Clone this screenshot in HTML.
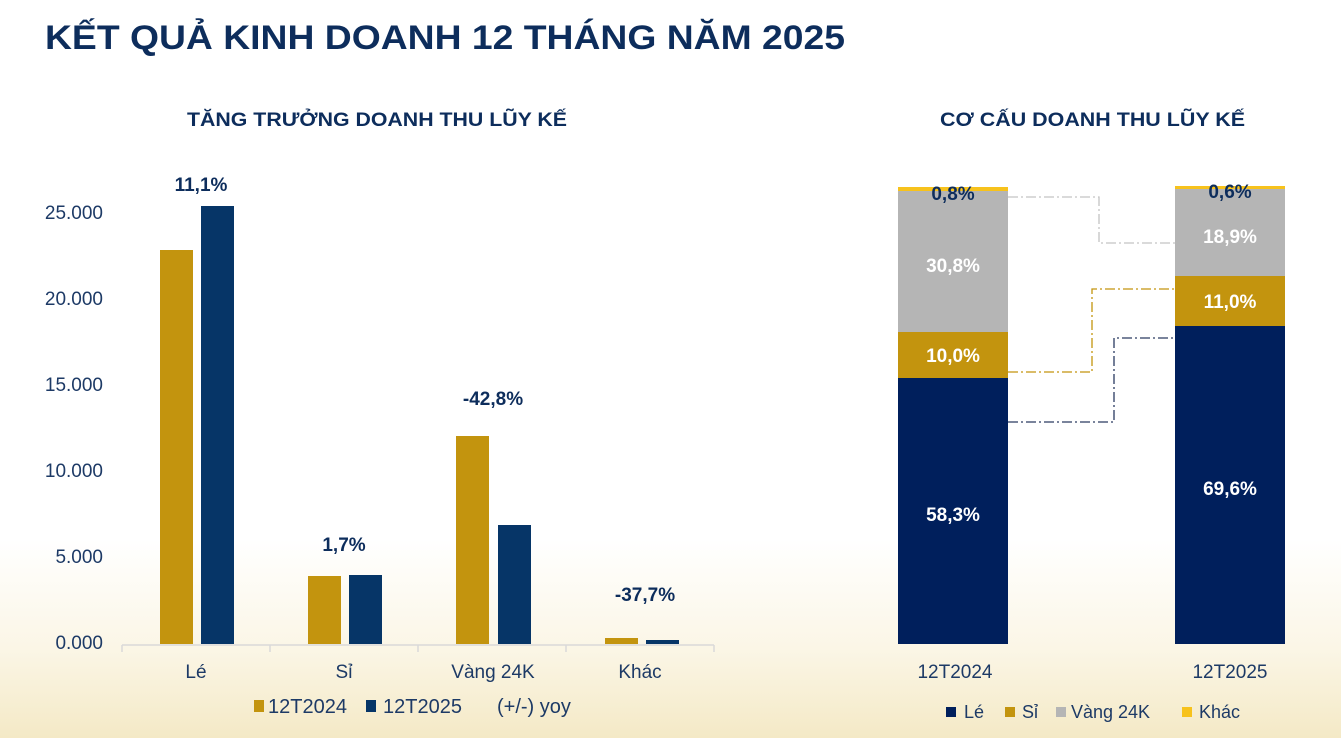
<!DOCTYPE html>
<html><head><meta charset="utf-8"><style>
html,body{margin:0;padding:0;width:1341px;height:738px;overflow:hidden;background:#fff}
svg{display:block}
text{font-family:"Liberation Sans",sans-serif}
.s{font-family:"Liberation Serif",serif}
</style></head><body>
<svg width="1341" height="738" viewBox="0 0 1341 738">
<defs><linearGradient id="bg" x1="0" y1="0" x2="0" y2="1">
<stop offset="0" stop-color="#ffffff"/><stop offset="0.55" stop-color="#fbf6e6"/><stop offset="1" stop-color="#f4e9c6"/></linearGradient></defs>
<rect x="0" y="0" width="1341" height="738" fill="#fff"/>
<rect x="0" y="540" width="1341" height="198" fill="url(#bg)"/>
<text x="45" y="49" font-size="34" font-weight="bold" fill="#0d2d5c" textLength="800" lengthAdjust="spacingAndGlyphs">KẾT QUẢ KINH DOANH 12 THÁNG NĂM 2025</text>
<text x="187" y="126" font-size="19" font-weight="bold" fill="#0d2d5c" textLength="380" lengthAdjust="spacingAndGlyphs">TĂNG TRƯỞNG DOANH THU LŨY KẾ</text>
<text x="940" y="126" font-size="19" font-weight="bold" fill="#0d2d5c" textLength="305" lengthAdjust="spacingAndGlyphs">CƠ CẤU DOANH THU LŨY KẾ</text>
<g class="s" font-size="19" fill="#1d3a66" text-anchor="end">
<text x="103" y="219">25.000</text><text x="103" y="305">20.000</text><text x="103" y="391">15.000</text>
<text x="103" y="477">10.000</text><text x="103" y="563">5.000</text><text x="103" y="649">0.000</text>
</g>
<g stroke="#d9d9d9" stroke-width="1.5"><line x1="122" y1="645" x2="714" y2="645"/>
<line x1="122" y1="645" x2="122" y2="652"/><line x1="270" y1="645" x2="270" y2="652"/><line x1="418" y1="645" x2="418" y2="652"/><line x1="566" y1="645" x2="566" y2="652"/><line x1="714" y1="645" x2="714" y2="652"/></g>
<g fill="#c3940e"><rect x="160" y="250" width="33" height="394"/><rect x="308" y="576" width="33" height="68"/><rect x="456" y="436" width="33" height="208"/><rect x="605" y="638" width="33" height="6"/></g>
<g fill="#063567"><rect x="201" y="206" width="33" height="438"/><rect x="349" y="575" width="33" height="69"/><rect x="498" y="525" width="33" height="119"/><rect x="646" y="640" width="33" height="4"/></g>
<g class="s" font-size="19" font-weight="bold" fill="#0d2d5c" text-anchor="middle">
<text x="201" y="191">11,1%</text><text x="344" y="551">1,7%</text><text x="493" y="405">-42,8%</text><text x="645" y="601">-37,7%</text></g>
<g font-size="19" fill="#1d3a66" text-anchor="middle">
<text x="196" y="678">Lé</text><text x="344" y="678">Sỉ</text><text x="493" y="678">Vàng 24K</text><text x="640" y="678">Khác</text>
<text x="955" y="678">12T2024</text><text x="1230" y="678">12T2025</text></g>
<g font-size="20" fill="#1d3a66"><rect x="254" y="700" width="10" height="12" fill="#c3940e"/><text x="268" y="713">12T2024</text>
<rect x="366" y="700" width="10" height="12" fill="#063567"/><text x="383" y="713">12T2025</text><text x="497" y="713">(+/-) yoy</text></g>
<rect x="898" y="187" width="110" height="5" fill="#f7c21c"/><rect x="898" y="191" width="110" height="141" fill="#b5b5b5"/>
<rect x="898" y="332" width="110" height="46" fill="#c3940e"/><rect x="898" y="378" width="110" height="266" fill="#001f5c"/>
<rect x="1175" y="186" width="110" height="4" fill="#f7c21c"/><rect x="1175" y="189" width="110" height="87" fill="#b5b5b5"/>
<rect x="1175" y="276" width="110" height="50" fill="#c3940e"/><rect x="1175" y="326" width="110" height="318" fill="#001f5c"/>
<g fill="none" stroke-width="1.3" stroke-dasharray="10,3,2,3">
<polyline points="1008,197 1099,197 1099,243 1175,243" stroke="#c4c4c4"/>
<polyline points="1008,372 1092,372 1092,289 1175,289" stroke="#c3940e"/>
<polyline points="1008,422 1114,422 1114,338 1175,338" stroke="#2a3a60"/></g>
<g class="s" font-size="19" font-weight="bold" text-anchor="middle">
<text x="953" y="200" fill="#0d2d5c">0,8%</text><text x="953" y="272" fill="#fff">30,8%</text>
<text x="953" y="362" fill="#fff">10,0%</text><text x="953" y="521" fill="#fff">58,3%</text>
<text x="1230" y="198" fill="#0d2d5c">0,6%</text><text x="1230" y="243" fill="#fff">18,9%</text>
<text x="1230" y="308" fill="#fff">11,0%</text><text x="1230" y="495" fill="#fff">69,6%</text></g>
<g font-size="18" fill="#1d3a66">
<rect x="946" y="707" width="10" height="10" fill="#001f5c"/><text x="964" y="718">Lé</text>
<rect x="1005" y="707" width="10" height="10" fill="#c3940e"/><text x="1022" y="718">Sỉ</text>
<rect x="1056" y="707" width="10" height="10" fill="#b5b5b5"/><text x="1071" y="718">Vàng 24K</text>
<rect x="1182" y="707" width="10" height="10" fill="#f7c21c"/><text x="1199" y="718">Khác</text></g>
</svg>
</body></html>
